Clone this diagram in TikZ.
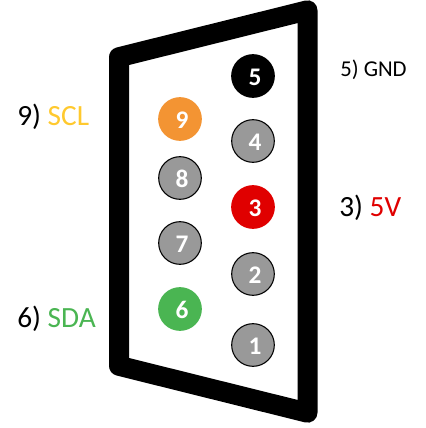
\documentclass[tikz,border=0pt]{standalone}
\usepackage{fontspec}
\setmainfont{Carlito}
\usepackage{xcolor}
\definecolor{pingray}{HTML}{999999}
\definecolor{pinorange}{HTML}{F39433}
\definecolor{pinred}{HTML}{E00000}
\definecolor{pingreen}{HTML}{4AB552}
\definecolor{sclyellow}{HTML}{FFC92E}

\begin{document}
\begin{tikzpicture}[
  x=0.75pt, y=-0.75pt,
  pin/.style={circle, draw=black, thick, inner sep=0pt, minimum size=32pt,
              text=white, font=\fontsize{19}{19}\selectfont\bfseries,
              text height=14.5pt, text depth=0pt, execute at begin node={\hspace{3pt}}},
  gray pin/.style={pin, fill=pingray},
  label big/.style={anchor=west, inner sep=0pt, font=\fontsize{22}{22}\selectfont},
  label small/.style={anchor=west, inner sep=0pt, font=\fontsize{17}{17}\selectfont},
]
  \useasboundingbox (0,0) rectangle (425,428);

  % connector shell
  \draw[line width=15pt, line join=round] (119,57.2) -- (307.5,10.3) -- (307.5,412.7) -- (119,365.8) -- cycle;

  \node[pin, fill=black, draw=black] (pin5) at (253,76)  {5};
  \node[gray pin]                    (pin4) at (253,141) {4};
  \node[pin, fill=pinred, draw=pinred] (pin3) at (253,207) {3};
  \node[gray pin]                    (pin2) at (253,274) {2};
  \node[gray pin]                    (pin1) at (253,345) {1};

  \node[pin, fill=pinorange, draw=pinorange] (pin9) at (180,119) {9};
  \node[gray pin]                    (pin8) at (180,178) {8};
  \node[gray pin]                    (pin7) at (180,243) {7};
  \node[pin, fill=pingreen, draw=pingreen] (pin6) at (180,309) {6};

  \node[label big] (scl) at (17,117) {9) \textcolor{sclyellow}{SCL}};
  \node[label big] (sda) at (17,319) {6) \textcolor{pingreen}{SDA}};
  \node[label small] (gnd) at (340,70) {5) GND};
  \node[label big] (vcc) at (339,208) {3) \textcolor{pinred}{5V}};
\end{tikzpicture}
\end{document}
